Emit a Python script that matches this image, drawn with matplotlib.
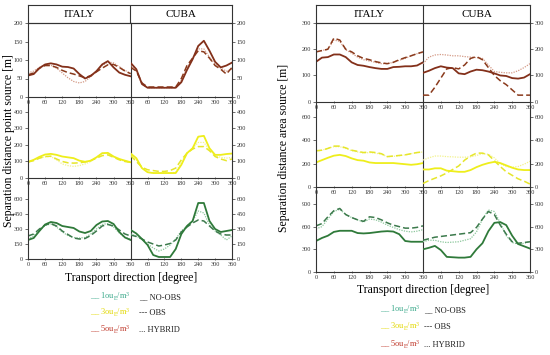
import matplotlib.pyplot as plt

plt.rcParams['font.family'] = ['Liberation Serif', 'DejaVu Serif']
plt.rcParams['mathtext.default'] = 'regular'

angles = [0, 20, 40, 60, 80, 100, 120, 140, 160, 180, 200, 220, 240, 260, 280, 300, 320, 340, 360]

# point source, 5 ouE/m3
pt_it5_no = [58, 62, 78, 88, 91, 88, 82, 81, 77, 62, 50, 57, 70, 88, 97, 80, 66, 60, 56]
pt_it5_obs = [60, 65, 78, 85, 85, 80, 72, 66, 62, 57, 52, 58, 68, 78, 87, 88, 80, 70, 63]
pt_it5_hy = [65, 70, 80, 87, 86, 78, 65, 52, 42, 38, 42, 55, 68, 85, 95, 92, 82, 72, 63]
pt_cu5_no = [92, 75, 35, 25, 25, 25, 25, 25, 25, 40, 73, 102, 138, 152, 125, 95, 80, 85, 93]
pt_cu5_obs = [80, 70, 38, 27, 27, 27, 27, 27, 27, 50, 85, 105, 125, 122, 105, 85, 75, 62, 80]
pt_cu5_hy = [85, 72, 35, 25, 25, 25, 25, 25, 25, 45, 80, 105, 130, 130, 108, 88, 78, 70, 75]

# point source, 3 ouE/m3
pt_it3_no = [97, 110, 128, 142, 146, 140, 130, 125, 120, 105, 98, 105, 125, 150, 152, 130, 115, 105, 95]
pt_it3_obs = [97, 105, 120, 130, 132, 115, 100, 92, 90, 92, 97, 105, 120, 135, 140, 125, 110, 100, 95]
pt_it3_hy = [100, 110, 120, 128, 130, 110, 85, 75, 70, 75, 85, 100, 125, 150, 150, 130, 115, 100, 95]
pt_cu3_no = [148, 120, 60, 35, 30, 30, 30, 30, 30, 80, 150, 180, 250, 255, 180, 140, 140, 145, 148]
pt_cu3_obs = [135, 100, 65, 50, 45, 40, 40, 45, 60, 110, 150, 175, 190, 190, 165, 130, 115, 105, 115]
pt_cu3_hy = [140, 110, 60, 35, 30, 30, 30, 30, 35, 95, 150, 180, 215, 215, 170, 135, 125, 120, 125]

# point source, 1 ouE/m3
pt_it1_no = [190, 210, 280, 345, 370, 360, 330, 320, 310, 275, 260, 280, 340, 375, 380, 350, 270, 215, 190]
pt_it1_obs = [230, 250, 300, 340, 355, 330, 280, 245, 210, 200, 205, 235, 280, 330, 345, 330, 290, 250, 230]
pt_it1_hy = [200, 230, 290, 335, 350, 320, 270, 235, 215, 210, 215, 250, 300, 345, 355, 320, 260, 215, 200]
pt_cu1_no = [290, 255, 200, 140, 40, 20, 20, 20, 100, 250, 330, 380, 560, 560, 380, 300, 270, 280, 290]
pt_cu1_obs = [240, 225, 200, 170, 150, 130, 140, 155, 190, 270, 320, 360, 390, 380, 330, 280, 250, 240, 240]
pt_cu1_hy = [250, 230, 195, 150, 110, 80, 100, 140, 200, 280, 330, 380, 480, 460, 340, 280, 240, 190, 230]

# area source, 5 ouE/m3
ar_it5_no = [152, 168, 170, 180, 180, 170, 150, 140, 137, 132, 128, 125, 125, 132, 133, 135, 135, 138, 150]
ar_it5_obs = [190, 195, 200, 242, 235, 200, 190, 175, 165, 160, 153, 148, 145, 150, 160, 168, 175, 183, 190]
ar_it5_hy = [188, 195, 200, 235, 230, 198, 185, 170, 160, 155, 150, 145, 145, 150, 158, 165, 175, 183, 188]
ar_cu5_no = [110, 118, 128, 135, 130, 128, 108, 105, 115, 122, 120, 115, 108, 100, 98, 90, 88, 92, 105]
ar_cu5_obs = [25, 25, 55, 90, 125, 130, 125, 140, 165, 172, 160, 130, 100, 80, 65, 45, 25, 25, 25]
ar_cu5_hy = [145, 170, 178, 180, 178, 175, 175, 172, 170, 168, 165, 140, 115, 112, 110, 110, 118, 130, 145]

# area source, 3 ouE/m3
ar_it3_no = [210, 230, 250, 268, 275, 265, 245, 230, 225, 210, 205, 205, 205, 205, 200, 195, 190, 195, 205]
ar_it3_obs = [310, 315, 330, 350, 350, 335, 315, 305, 295, 300, 295, 285, 260, 265, 270, 275, 285, 295, 300]
ar_it3_hy = [305, 315, 330, 345, 345, 330, 310, 300, 290, 295, 290, 280, 260, 262, 268, 275, 285, 295, 300]
ar_cu3_no = [150, 150, 160, 160, 140, 135, 130, 130, 145, 170, 190, 205, 215, 205, 185, 165, 150, 145, 145]
ar_cu3_obs = [30, 55, 75, 95, 120, 150, 180, 230, 265, 290, 290, 275, 225, 175, 130, 100, 70, 50, 25]
ar_cu3_hy = [230, 250, 265, 265, 260, 258, 255, 255, 258, 270, 285, 280, 250, 200, 175, 170, 175, 195, 220]

# area source, 1 ouE/m3
ar_it1_no = [410, 450, 480, 530, 545, 545, 545, 515, 510, 515, 525, 535, 540, 535, 500, 410, 400, 400, 400]
ar_it1_obs = [610, 640, 730, 810, 840, 760, 720, 690, 670, 730, 720, 690, 650, 620, 600, 580, 580, 590, 610]
ar_it1_hy = [570, 600, 700, 800, 830, 760, 720, 690, 660, 700, 690, 660, 620, 590, 560, 540, 530, 540, 560]
ar_cu1_no = [300, 320, 345, 290, 200, 195, 190, 190, 200, 300, 380, 540, 650, 660, 620, 480, 370, 340, 310]
ar_cu1_obs = [420, 440, 460, 470, 480, 490, 500, 510, 520, 590, 700, 800, 760, 620, 500, 400, 380, 390, 400]
ar_cu1_hy = [400, 420, 420, 400, 390, 395, 400, 420, 440, 530, 700, 820, 800, 650, 480, 390, 370, 380, 400]

regions = ["ITALY", "CUBA"]
x_ticks = [0, 60, 120, 180, 240, 300, 360]

# line colours per concentration row: (NO-OBS, OBS, HYBRID)
row_colors = [("#83301a", "#8a3a1c", "#d49a86"),
              ("#eeee1c", "#e6e62a", "#f2f28c"),
              ("#2f7a3a", "#3c7a4c", "#8cc79c")]

W, H = 550, 355
fig = plt.figure(figsize=(5.5, 3.55), dpi=100)


def rect(x0, y0, x1, y1):
    return [x0 / W, 1 - y1 / H, (x1 - x0) / W, (y1 - y0) / H]


def draw_panel(xl, xm, xr, rows, data, ylabel, ylabel_x, xlabel_y):
    # header with region names
    hd = fig.add_axes(rect(xl, 5, xr, 23))
    hd.set_xlim(0, 2)
    hd.set_ylim(0, 1)
    hd.set_xticks([])
    hd.set_yticks([])
    hd.axvline(1, color="#333333", lw=0.8)
    for i, name in enumerate(regions):
        hd.text(i + 0.5, 0.45, name, ha="center", va="center", fontsize=8)
    for s in hd.spines.values():
        s.set_color("#333333")
        s.set_linewidth(0.8)

    for r, (ytop, ybot, ymax, yt) in enumerate(rows):
        for c in range(2):
            if c == 0:
                ax = fig.add_axes(rect(xl, ytop, xm, ybot))
            else:
                ax = fig.add_axes(rect(xm, ytop, xr, ybot))
            ax.patch.set_alpha(0)
            no, obs, hy = data[r][c]
            cno, cobs, chy = row_colors[r]
            ax.plot(angles, hy, color=chy, lw=0.9, ls=(0, (1, 1)))
            ax.plot(angles, obs, color=cobs, lw=1.1, ls=(0, (4, 2)))
            ax.plot(angles, no, color=cno, lw=1.3)
            ax.set_xlim(0, 360)
            ax.set_ylim(0, ymax)
            ax.set_yticks(yt)
            ax.set_xticks(x_ticks)
            if c == 1:
                ax.set_xticklabels([""] + [str(t) for t in x_ticks[1:]])
                ax.yaxis.tick_right()
                ax.spines["left"].set_visible(False)
            else:
                ax.spines["right"].set_visible(True)
            ax.spines["top"].set_visible(r == 0)
            for s in ax.spines.values():
                s.set_color("#333333")
                s.set_linewidth(0.8)
            ax.tick_params(axis="both", labelsize=4.5, length=2, width=0.5,
                           pad=1.5, colors="#333333")
            ax.tick_params(axis="x", direction="inout")

    fig.text(ylabel_x / W, 1 - ((23 + rows[-1][1]) / 2) / H, ylabel,
             rotation=90, ha="center", va="center", fontsize=8.5)
    fig.text(xm / W, 1 - xlabel_y / H, "Transport direction [degree]",
             ha="center", va="center", fontsize=8.5)


draw_panel(28, 130.7, 232,
           [(23, 97, 200, [0, 50, 100, 150, 200]),
            (97, 178, 490, [0, 100, 200, 300, 400]),
            (178, 259, 810, [0, 150, 300, 450, 600])],
           [[(pt_it5_no, pt_it5_obs, pt_it5_hy), (pt_cu5_no, pt_cu5_obs, pt_cu5_hy)],
            [(pt_it3_no, pt_it3_obs, pt_it3_hy), (pt_cu3_no, pt_cu3_obs, pt_cu3_hy)],
            [(pt_it1_no, pt_it1_obs, pt_it1_hy), (pt_cu1_no, pt_cu1_obs, pt_cu1_hy)]],
           "Separation distance point source [m]", 9, 278)

draw_panel(316, 423, 530,
           [(23, 101.7, 300, [0, 100, 200, 300]),
            (101.7, 187, 730, [0, 200, 400, 600]),
            (187, 272, 1124, [0, 300, 600, 900])],
           [[(ar_it5_no, ar_it5_obs, ar_it5_hy), (ar_cu5_no, ar_cu5_obs, ar_cu5_hy)],
            [(ar_it3_no, ar_it3_obs, ar_it3_hy), (ar_cu3_no, ar_cu3_obs, ar_cu3_hy)],
            [(ar_it1_no, ar_it1_obs, ar_it1_hy), (ar_cu1_no, ar_cu1_obs, ar_cu1_hy)]],
           "Separation distance area source [m]", 284, 290)

# legends (written as text, like the source figure)
conc_labels = ["__ 1ou$_E$/m$^3$", "__ 3ou$_E$/m$^3$", "__ 5ou$_E$/m$^3$"]
conc_colors = ["#3aa98a", "#e2d800", "#c0392b"]
method_labels = ["__ NO-OBS", "--- OBS", "... HYBRID"]

for x1, x2, ys in [(90, 139, [297, 313, 330]), (380, 424, [310, 327, 345])]:
    for lab, col, meth, y in zip(conc_labels, conc_colors, method_labels, ys):
        fig.text(x1 / W, 1 - y / H, lab, color=col, fontsize=6, ha="left", va="center")
        fig.text(x2 / W, 1 - y / H, meth, color="#222222", fontsize=6, ha="left", va="center")

fig.savefig("out.png", dpi=100)
